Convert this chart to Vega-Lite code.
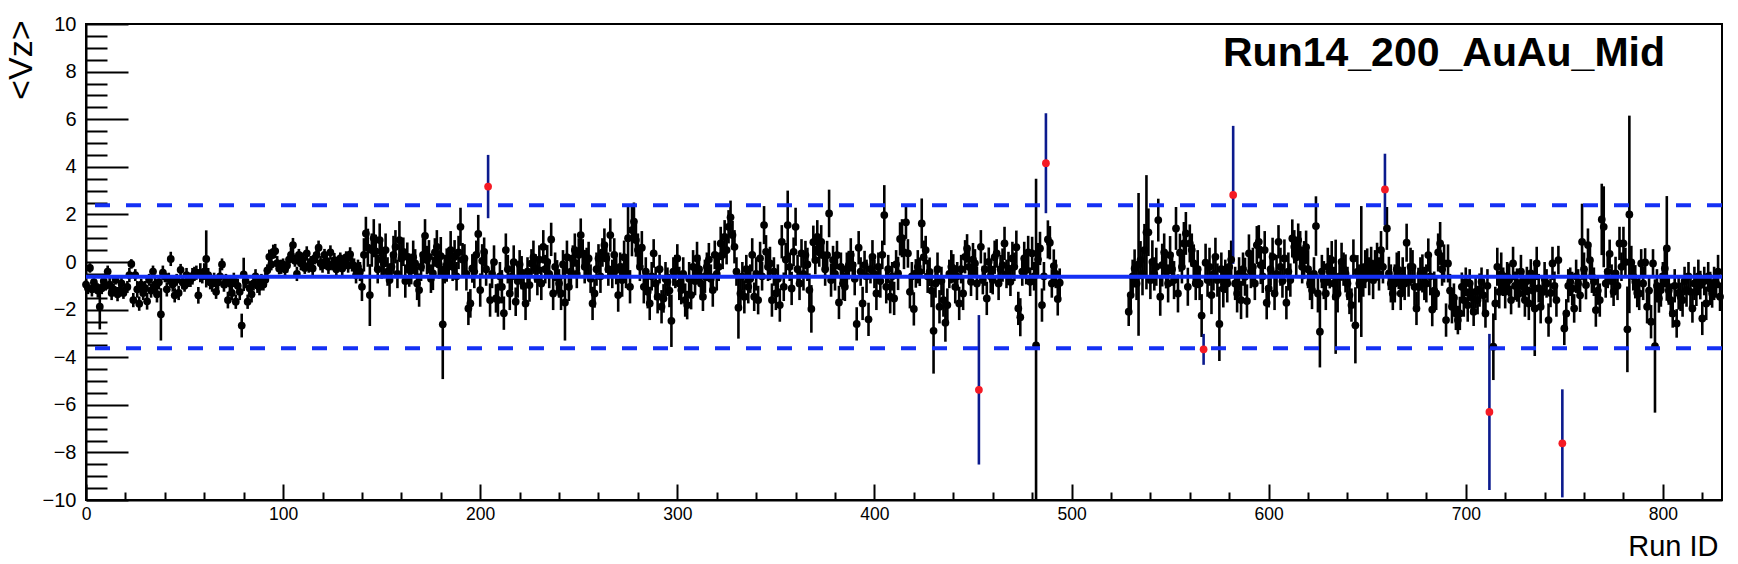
{
"$schema": "https://vega.github.io/schema/vega-lite/v6.json",
"width": 1636, "height": 476,
"autosize": {"type": "none"},
"padding": {"left": 86, "top": 24, "right": 16, "bottom": 64},
"background": "white",
"title": {"text": "Run14_200_AuAu_Mid", "anchor": "end", "frame": "group", "orient": "top", "offset": 0, "dx": -57, "dy": 93, "baseline": "alphabetic", "font": "Liberation Sans", "fontSize": 41, "fontWeight": "bold", "color": "black"},
"config": {
  "view": {"stroke": "black", "strokeWidth": 2},
  "axis": {"domainColor": "black", "domainWidth": 2, "tickColor": "black", "tickWidth": 2, "labelColor": "black", "labelFont": "Liberation Sans", "titleFont": "Liberation Sans", "titleColor": "black", "titleFontWeight": "normal", "grid": false, "labelFlush": false, "labelOverlap": false}
},
"datasets": {
"pts": [
{"r":0,"v":-0.95,"e":0.2},{"r":1,"v":-1.1,"e":0.25},{"r":2,"v":-0.25,"e":0.2},{"r":3,"v":-1.15,"e":0.3},{"r":4,"v":-0.85,"e":0.2},{"r":5,"v":-1.05,"e":0.25},{"r":6,"v":-1.2,"e":0.3},{"r":7,"v":-1.88,"e":0.95},{"r":8,"v":-1.1,"e":0.25},{"r":9,"v":-0.8,"e":0.3},
{"r":10,"v":-1.0,"e":0.2},{"r":11,"v":-0.4,"e":0.25},{"r":12,"v":-0.95,"e":0.3},{"r":13,"v":-1.3,"e":0.3},{"r":14,"v":-1.15,"e":0.25},{"r":15,"v":-0.75,"e":0.2},{"r":16,"v":-1.35,"e":0.3},{"r":17,"v":-1.2,"e":0.25},{"r":18,"v":-0.9,"e":0.3},{"r":19,"v":-1.3,"e":0.25},
{"r":21,"v":-1.05,"e":0.25},{"r":22,"v":-0.55,"e":0.3},{"r":23,"v":-0.08,"e":0.2},{"r":24,"v":-1.6,"e":0.3},{"r":25,"v":-0.55,"e":0.25},{"r":26,"v":-1.15,"e":0.35},{"r":27,"v":-1.75,"e":0.3},{"r":28,"v":-0.95,"e":0.25},{"r":29,"v":-1.3,"e":0.3},
{"r":30,"v":-1.1,"e":0.3},{"r":31,"v":-1.65,"e":0.35},{"r":32,"v":-0.75,"e":0.25},{"r":33,"v":-1.2,"e":0.3},{"r":34,"v":-0.4,"e":0.25},{"r":35,"v":-0.95,"e":0.3},{"r":36,"v":-1.35,"e":0.35},{"r":37,"v":-0.85,"e":0.3},{"r":38,"v":-2.2,"e":1.1},{"r":39,"v":-0.45,"e":0.3},
{"r":40,"v":-0.6,"e":0.25},{"r":41,"v":-1.15,"e":0.3},{"r":42,"v":-0.7,"e":0.25},{"r":43,"v":0.13,"e":0.3},{"r":44,"v":-0.95,"e":0.3},{"r":45,"v":-1.4,"e":0.3},{"r":46,"v":-0.75,"e":0.25},{"r":47,"v":-1.3,"e":0.3},{"r":48,"v":-0.33,"e":0.25},{"r":49,"v":-0.85,"e":0.3},
{"r":50,"v":-1.0,"e":0.25},{"r":51,"v":-0.55,"e":0.3},{"r":52,"v":-0.8,"e":0.25},{"r":53,"v":-0.75,"e":0.3},{"r":54,"v":-0.6,"e":0.35},{"r":55,"v":-0.5,"e":0.3},{"r":56,"v":-0.45,"e":0.3},{"r":57,"v":-1.4,"e":0.35},{"r":58,"v":-0.45,"e":0.4},{"r":59,"v":-0.6,"e":0.3},
{"r":60,"v":-0.4,"e":0.35},{"r":61,"v":0.13,"e":1.2},{"r":62,"v":-0.55,"e":0.3},{"r":63,"v":-0.85,"e":0.3},{"r":64,"v":-0.9,"e":0.35},{"r":65,"v":-0.75,"e":0.3},{"r":66,"v":-1.25,"e":0.3},{"r":67,"v":-0.85,"e":0.3},{"r":68,"v":-0.6,"e":0.35},{"r":69,"v":-0.1,"e":0.25},
{"r":70,"v":-0.95,"e":0.3},{"r":71,"v":-0.8,"e":0.3},{"r":72,"v":-1.6,"e":0.35},{"r":73,"v":-0.9,"e":0.3},{"r":74,"v":-1.3,"e":0.3},{"r":75,"v":-0.75,"e":0.3},{"r":76,"v":-1.67,"e":0.3},{"r":77,"v":-1.0,"e":0.3},{"r":78,"v":-1.25,"e":0.35},{"r":79,"v":-2.67,"e":0.5},
{"r":80,"v":-0.52,"e":0.7},{"r":81,"v":-0.8,"e":0.3},{"r":82,"v":-1.67,"e":0.3},{"r":83,"v":-1.1,"e":0.3},{"r":84,"v":-1.35,"e":0.35},{"r":85,"v":-0.9,"e":0.3},{"r":86,"v":-0.6,"e":0.3},{"r":87,"v":-1.0,"e":0.3},{"r":88,"v":-1.05,"e":0.35},{"r":89,"v":-0.8,"e":0.3},
{"r":90,"v":-0.95,"e":0.25},{"r":91,"v":-0.75,"e":0.3},{"r":92,"v":-0.35,"e":0.25},{"r":93,"v":0.22,"e":0.3},{"r":94,"v":-0.1,"e":0.25},{"r":95,"v":0.43,"e":0.3},{"r":96,"v":0.46,"e":0.3},{"r":97,"v":-0.05,"e":0.3},{"r":98,"v":-0.27,"e":0.25},{"r":99,"v":-0.2,"e":0.3},
{"r":100,"v":-0.1,"e":0.25},{"r":101,"v":-0.3,"e":0.3},{"r":102,"v":-0.15,"e":0.3},{"r":103,"v":0.1,"e":0.25},{"r":104,"v":0.3,"e":0.3},{"r":105,"v":0.71,"e":0.3},{"r":106,"v":0.05,"e":0.25},{"r":107,"v":-0.5,"e":0.3},{"r":108,"v":0.3,"e":0.25},{"r":109,"v":-0.05,"e":0.3},
{"r":110,"v":0.1,"e":0.3},{"r":111,"v":-0.25,"e":0.25},{"r":112,"v":0.36,"e":0.3},{"r":113,"v":-0.15,"e":0.3},{"r":114,"v":0.0,"e":0.25},{"r":115,"v":-0.27,"e":0.3},{"r":116,"v":0.15,"e":0.25},{"r":117,"v":0.3,"e":0.35},{"r":118,"v":0.6,"e":0.3},{"r":119,"v":-0.05,"e":0.3},
{"r":120,"v":-0.15,"e":0.3},{"r":121,"v":0.3,"e":0.25},{"r":122,"v":0.05,"e":0.3},{"r":123,"v":-0.2,"e":0.3},{"r":124,"v":0.4,"e":0.3},{"r":125,"v":-0.1,"e":0.25},{"r":126,"v":0.08,"e":0.3},{"r":127,"v":-0.3,"e":0.3},{"r":128,"v":-0.05,"e":0.3},{"r":129,"v":0.15,"e":0.25},
{"r":130,"v":-0.27,"e":0.3},{"r":131,"v":-0.03,"e":0.3},{"r":132,"v":0.2,"e":0.25},{"r":133,"v":-0.15,"e":0.3},{"r":134,"v":0.32,"e":0.3},{"r":135,"v":-0.1,"e":0.3},{"r":136,"v":-0.15,"e":0.3},{"r":137,"v":-0.55,"e":0.35},{"r":138,"v":-0.2,"e":0.3},{"r":139,"v":-0.4,"e":0.4},
{"r":140,"v":-1.04,"e":0.6},{"r":141,"v":0.3,"e":0.7},{"r":142,"v":1.2,"e":0.7},{"r":143,"v":0.6,"e":0.8},{"r":144,"v":-1.39,"e":1.3},{"r":145,"v":0.5,"e":0.7},{"r":146,"v":1.0,"e":0.8},{"r":147,"v":0.45,"e":0.7},{"r":148,"v":-0.3,"e":0.6},{"r":149,"v":0.92,"e":0.7},
{"r":150,"v":0.1,"e":0.8},{"r":151,"v":-0.06,"e":0.6},{"r":152,"v":0.5,"e":0.7},{"r":153,"v":-0.4,"e":0.6},{"r":154,"v":-0.76,"e":0.7},{"r":155,"v":-0.2,"e":0.6},{"r":156,"v":0.3,"e":0.8},{"r":157,"v":0.64,"e":0.7},{"r":158,"v":-0.5,"e":0.6},{"r":159,"v":0.92,"e":0.8},
{"r":160,"v":0.15,"e":0.7},{"r":161,"v":0.43,"e":0.6},{"r":162,"v":-0.8,"e":0.7},{"r":163,"v":0.22,"e":0.6},{"r":164,"v":-0.34,"e":0.7},{"r":165,"v":-0.34,"e":0.6},{"r":166,"v":0.2,"e":0.7},{"r":167,"v":-0.06,"e":0.6},{"r":168,"v":-0.9,"e":0.7},{"r":169,"v":-1.18,"e":0.7},
{"r":170,"v":-0.2,"e":0.6},{"r":171,"v":0.3,"e":0.7},{"r":172,"v":1.1,"e":0.7},{"r":173,"v":0.08,"e":0.6},{"r":174,"v":0.22,"e":0.7},{"r":175,"v":-0.7,"e":0.6},{"r":176,"v":-0.48,"e":0.7},{"r":177,"v":0.4,"e":0.6},{"r":178,"v":0.64,"e":0.7},{"r":179,"v":-0.1,"e":0.6},
{"r":180,"v":0.25,"e":0.8},{"r":181,"v":-2.62,"e":2.3},{"r":182,"v":-0.3,"e":0.6},{"r":183,"v":-0.13,"e":0.7},{"r":184,"v":-0.06,"e":0.6},{"r":185,"v":0.5,"e":0.8},{"r":186,"v":-0.2,"e":0.6},{"r":187,"v":0.22,"e":0.7},{"r":188,"v":-0.6,"e":0.6},{"r":189,"v":0.4,"e":0.7},
{"r":190,"v":1.48,"e":0.8},{"r":191,"v":0.1,"e":0.7},{"r":192,"v":0.15,"e":0.6},{"r":193,"v":-0.5,"e":0.7},{"r":194,"v":-1.95,"e":0.7},{"r":195,"v":-1.74,"e":0.6},{"r":196,"v":-0.27,"e":0.6},{"r":197,"v":-0.4,"e":0.7},{"r":198,"v":0.3,"e":0.6},{"r":199,"v":1.18,"e":0.8},
{"r":200,"v":-1.18,"e":0.7},{"r":201,"v":0.05,"e":0.7},{"r":202,"v":0.43,"e":0.6},{"r":203,"v":-0.3,"e":0.7},{"r":205,"v":-1.6,"e":0.7},{"r":206,"v":-0.5,"e":0.6},{"r":207,"v":0.0,"e":0.7},{"r":208,"v":-1.53,"e":0.6},{"r":209,"v":-1.6,"e":0.7},
{"r":210,"v":-0.6,"e":0.6},{"r":211,"v":-1.04,"e":0.7},{"r":212,"v":-2.15,"e":0.7},{"r":213,"v":0.5,"e":0.7},{"r":214,"v":-0.3,"e":0.6},{"r":215,"v":-1.32,"e":0.7},{"r":216,"v":-0.6,"e":0.6},{"r":217,"v":0.0,"e":0.7},{"r":218,"v":-1.67,"e":0.6},{"r":219,"v":-0.8,"e":0.7},
{"r":220,"v":-0.1,"e":0.6},{"r":221,"v":-0.45,"e":0.7},{"r":222,"v":-1.0,"e":0.6},{"r":223,"v":-1.74,"e":0.7},{"r":224,"v":-0.4,"e":0.6},{"r":225,"v":-0.97,"e":0.7},{"r":226,"v":-0.06,"e":0.6},{"r":227,"v":0.2,"e":0.7},{"r":228,"v":-0.27,"e":0.6},{"r":229,"v":-0.7,"e":0.7},
{"r":230,"v":0.1,"e":0.6},{"r":231,"v":-0.9,"e":0.7},{"r":232,"v":0.64,"e":0.7},{"r":233,"v":-0.3,"e":0.6},{"r":234,"v":0.01,"e":0.7},{"r":235,"v":-0.5,"e":0.6},{"r":236,"v":0.95,"e":0.7},{"r":237,"v":-1.32,"e":0.7},{"r":238,"v":-0.2,"e":0.6},{"r":239,"v":-0.62,"e":0.7},
{"r":240,"v":-0.9,"e":0.6},{"r":241,"v":-1.32,"e":0.7},{"r":242,"v":-0.1,"e":0.6},{"r":243,"v":-1.7,"e":1.6},{"r":244,"v":0.2,"e":0.7},{"r":245,"v":-1.04,"e":0.6},{"r":246,"v":-0.4,"e":0.7},{"r":247,"v":0.1,"e":0.6},{"r":248,"v":0.5,"e":0.7},{"r":249,"v":-0.5,"e":0.6},
{"r":250,"v":0.3,"e":0.7},{"r":251,"v":1.13,"e":0.7},{"r":252,"v":0.36,"e":0.6},{"r":253,"v":-0.2,"e":0.7},{"r":254,"v":0.0,"e":0.6},{"r":255,"v":0.15,"e":0.7},{"r":256,"v":-0.7,"e":0.6},{"r":257,"v":-1.74,"e":0.7},{"r":258,"v":-1.32,"e":0.6},{"r":259,"v":-0.3,"e":0.7},
{"r":260,"v":0.15,"e":0.6},{"r":261,"v":-0.6,"e":0.7},{"r":262,"v":0.4,"e":0.6},{"r":263,"v":0.71,"e":0.7},{"r":264,"v":0.15,"e":0.6},{"r":265,"v":-0.3,"e":0.7},{"r":266,"v":1.13,"e":0.7},{"r":267,"v":-0.5,"e":0.6},{"r":268,"v":0.3,"e":0.7},{"r":269,"v":-0.34,"e":0.6},
{"r":270,"v":-1.39,"e":0.7},{"r":271,"v":-0.2,"e":0.6},{"r":272,"v":-0.76,"e":0.7},{"r":273,"v":0.2,"e":0.7},{"r":274,"v":-0.5,"e":0.6},{"r":275,"v":1.0,"e":1.4},{"r":276,"v":-1.04,"e":0.7},{"r":277,"v":1.34,"e":1.1},{"r":278,"v":1.7,"e":0.8},{"r":279,"v":0.92,"e":0.7},
{"r":280,"v":0.5,"e":0.7},{"r":281,"v":-0.2,"e":0.6},{"r":282,"v":0.6,"e":0.7},{"r":283,"v":-1.04,"e":0.7},{"r":284,"v":-0.4,"e":0.6},{"r":285,"v":-1.25,"e":0.7},{"r":286,"v":-1.74,"e":0.7},{"r":287,"v":-0.6,"e":0.6},{"r":288,"v":0.36,"e":0.6},{"r":289,"v":-0.9,"e":0.7},
{"r":290,"v":-1.46,"e":0.7},{"r":291,"v":-0.3,"e":0.6},{"r":292,"v":-1.88,"e":0.7},{"r":293,"v":-1.53,"e":0.6},{"r":294,"v":-0.7,"e":0.7},{"r":295,"v":-0.83,"e":0.6},{"r":296,"v":-1.2,"e":0.7},{"r":297,"v":-2.47,"e":1.1},{"r":298,"v":-0.4,"e":0.6},{"r":299,"v":-0.4,"e":0.7},
{"r":300,"v":0.15,"e":0.6},{"r":301,"v":-0.9,"e":0.7},{"r":302,"v":-1.18,"e":0.6},{"r":303,"v":-0.5,"e":0.7},{"r":304,"v":-1.6,"e":0.7},{"r":305,"v":-1.81,"e":0.6},{"r":306,"v":-0.7,"e":0.7},{"r":307,"v":-1.39,"e":0.6},{"r":308,"v":-0.2,"e":0.7},{"r":309,"v":-0.8,"e":0.6},
{"r":310,"v":0.15,"e":0.7},{"r":311,"v":-0.3,"e":0.6},{"r":312,"v":-0.9,"e":0.7},{"r":313,"v":-1.46,"e":0.6},{"r":314,"v":-0.6,"e":0.7},{"r":315,"v":-0.2,"e":0.6},{"r":316,"v":0.1,"e":0.7},{"r":317,"v":-0.7,"e":0.6},{"r":318,"v":-1.18,"e":0.7},{"r":319,"v":0.3,"e":0.6},
{"r":320,"v":-0.5,"e":0.7},{"r":321,"v":-0.2,"e":0.6},{"r":322,"v":0.78,"e":0.7},{"r":323,"v":0.3,"e":0.6},{"r":324,"v":1.06,"e":0.7},{"r":325,"v":0.5,"e":0.6},{"r":326,"v":1.48,"e":0.7},{"r":327,"v":1.88,"e":0.7},{"r":328,"v":1.13,"e":0.6},{"r":329,"v":0.64,"e":0.7},
{"r":330,"v":-0.4,"e":0.6},{"r":331,"v":-1.92,"e":1.3},{"r":332,"v":-1.32,"e":0.7},{"r":333,"v":-0.6,"e":0.6},{"r":334,"v":-1.46,"e":0.7},{"r":335,"v":-0.3,"e":0.6},{"r":336,"v":-1.04,"e":0.7},{"r":337,"v":-0.7,"e":0.6},{"r":338,"v":0.3,"e":0.7},{"r":339,"v":-1.46,"e":0.6},
{"r":340,"v":-0.5,"e":0.7},{"r":341,"v":-1.6,"e":0.6},{"r":342,"v":0.15,"e":0.7},{"r":343,"v":-0.6,"e":0.6},{"r":344,"v":1.55,"e":0.8},{"r":345,"v":0.43,"e":0.7},{"r":346,"v":-0.2,"e":0.6},{"r":347,"v":-0.06,"e":0.7},{"r":348,"v":-1.6,"e":0.7},{"r":349,"v":-0.4,"e":0.6},
{"r":350,"v":-1.32,"e":0.7},{"r":351,"v":-0.7,"e":0.6},{"r":352,"v":-1.81,"e":0.7},{"r":353,"v":0.85,"e":0.7},{"r":354,"v":-1.04,"e":0.6},{"r":355,"v":0.1,"e":0.7},{"r":356,"v":1.55,"e":1.45},{"r":357,"v":-0.2,"e":0.6},{"r":358,"v":-1.11,"e":0.7},{"r":359,"v":0.43,"e":0.6},
{"r":360,"v":1.48,"e":0.8},{"r":361,"v":-0.3,"e":0.6},{"r":362,"v":-0.9,"e":0.7},{"r":363,"v":0.36,"e":0.6},{"r":364,"v":-0.5,"e":0.7},{"r":365,"v":0.29,"e":0.6},{"r":366,"v":-0.1,"e":0.7},{"r":367,"v":-1.18,"e":0.7},{"r":368,"v":-1.97,"e":1.0},{"r":369,"v":0.83,"e":0.7},
{"r":370,"v":0.08,"e":0.6},{"r":371,"v":1.06,"e":0.7},{"r":372,"v":0.4,"e":0.6},{"r":373,"v":0.85,"e":0.7},{"r":374,"v":0.29,"e":0.6},{"r":375,"v":-0.3,"e":0.7},{"r":376,"v":0.29,"e":0.6},{"r":377,"v":2.04,"e":1.0},{"r":378,"v":-0.76,"e":0.7},{"r":379,"v":0.08,"e":0.6},
{"r":380,"v":-0.5,"e":0.7},{"r":381,"v":0.29,"e":0.6},{"r":382,"v":-1.7,"e":0.7},{"r":383,"v":-0.2,"e":0.6},{"r":384,"v":-0.9,"e":0.7},{"r":385,"v":-1.04,"e":0.6},{"r":386,"v":-0.3,"e":0.7},{"r":387,"v":-0.13,"e":0.6},{"r":388,"v":0.3,"e":0.7},{"r":389,"v":-0.13,"e":0.6},
{"r":390,"v":-0.7,"e":0.7},{"r":391,"v":-2.6,"e":0.7},{"r":392,"v":0.6,"e":0.7},{"r":393,"v":-0.4,"e":0.6},{"r":394,"v":-1.74,"e":0.7},{"r":395,"v":-0.13,"e":0.6},{"r":396,"v":-0.6,"e":0.7},{"r":397,"v":-2.41,"e":0.7},{"r":398,"v":-0.3,"e":0.6},{"r":399,"v":0.22,"e":0.7},
{"r":400,"v":-0.5,"e":0.6},{"r":401,"v":-1.32,"e":0.7},{"r":402,"v":-0.2,"e":0.6},{"r":403,"v":-0.8,"e":0.7},{"r":404,"v":0.3,"e":0.6},{"r":405,"v":1.97,"e":1.26},{"r":406,"v":-1.04,"e":0.7},{"r":407,"v":-0.3,"e":0.6},{"r":408,"v":-1.46,"e":0.7},{"r":409,"v":-0.6,"e":0.6},
{"r":410,"v":-1.53,"e":0.7},{"r":411,"v":-0.1,"e":0.6},{"r":412,"v":-0.48,"e":0.7},{"r":413,"v":0.97,"e":0.7},{"r":414,"v":1.0,"e":0.8},{"r":415,"v":0.4,"e":0.7},{"r":416,"v":1.67,"e":0.7},{"r":417,"v":0.36,"e":0.6},{"r":418,"v":-1.25,"e":0.7},{"r":419,"v":-0.6,"e":0.6},
{"r":420,"v":-1.97,"e":0.7},{"r":421,"v":-0.48,"e":0.6},{"r":422,"v":-0.2,"e":0.7},{"r":423,"v":-0.41,"e":0.6},{"r":424,"v":1.62,"e":1.05},{"r":425,"v":0.2,"e":0.7},{"r":426,"v":0.5,"e":0.6},{"r":427,"v":-0.6,"e":0.7},{"r":428,"v":-0.41,"e":0.6},{"r":429,"v":-1.2,"e":0.7},
{"r":430,"v":-2.89,"e":1.8},{"r":431,"v":-0.9,"e":0.6},{"r":432,"v":-0.3,"e":0.7},{"r":433,"v":-1.88,"e":0.7},{"r":434,"v":-0.8,"e":0.6},{"r":435,"v":-1.6,"e":0.7},{"r":436,"v":-2.55,"e":0.8},{"r":437,"v":-1.81,"e":0.7},{"r":438,"v":-0.5,"e":0.6},{"r":439,"v":-0.2,"e":0.7},
{"r":440,"v":-0.27,"e":0.6},{"r":441,"v":-1.04,"e":0.7},{"r":442,"v":-0.6,"e":0.6},{"r":443,"v":-1.74,"e":0.7},{"r":444,"v":-0.3,"e":0.6},{"r":445,"v":-1.32,"e":0.7},{"r":446,"v":0.22,"e":0.7},{"r":447,"v":0.57,"e":0.6},{"r":448,"v":-0.2,"e":0.7},{"r":449,"v":-0.83,"e":0.6},
{"r":450,"v":0.1,"e":0.7},{"r":451,"v":-0.06,"e":0.6},{"r":452,"v":-0.9,"e":0.7},{"r":454,"v":0.64,"e":0.7},{"r":455,"v":-0.76,"e":0.6},{"r":456,"v":-0.3,"e":0.7},{"r":457,"v":-1.53,"e":0.7},{"r":458,"v":0.01,"e":0.6},{"r":459,"v":-0.6,"e":0.7},
{"r":460,"v":-0.76,"e":0.6},{"r":461,"v":0.2,"e":0.7},{"r":462,"v":0.36,"e":0.6},{"r":463,"v":-0.9,"e":0.7},{"r":464,"v":-0.3,"e":0.6},{"r":465,"v":-0.13,"e":0.7},{"r":466,"v":0.78,"e":0.7},{"r":467,"v":-0.5,"e":0.6},{"r":468,"v":-0.27,"e":0.7},{"r":469,"v":-0.83,"e":0.6},
{"r":470,"v":0.15,"e":0.7},{"r":471,"v":-0.2,"e":0.6},{"r":472,"v":0.62,"e":0.7},{"r":473,"v":-1.95,"e":0.7},{"r":474,"v":-2.32,"e":0.8},{"r":475,"v":-0.4,"e":0.6},{"r":476,"v":0.15,"e":0.7},{"r":477,"v":-0.34,"e":0.6},{"r":478,"v":0.4,"e":0.7},{"r":479,"v":-0.83,"e":0.6},
{"r":480,"v":0.36,"e":0.7},{"r":481,"v":-0.6,"e":0.6},{"r":482,"v":-3.5,"e":7.0},{"r":483,"v":0.1,"e":0.7},{"r":484,"v":0.57,"e":0.7},{"r":485,"v":-1.81,"e":0.7},{"r":486,"v":-0.6,"e":0.6},{"r":488,"v":0.95,"e":0.8},{"r":489,"v":0.81,"e":0.7},
{"r":490,"v":-0.9,"e":0.6},{"r":491,"v":-0.17,"e":0.7},{"r":492,"v":-0.5,"e":0.6},{"r":493,"v":-1.55,"e":0.7},{"r":494,"v":-0.87,"e":0.6},
{"r":529,"v":-2.09,"e":0.6},{"r":530,"v":-1.39,"e":0.8},{"r":531,"v":-0.6,"e":0.7},{"r":532,"v":-0.27,"e":0.8},{"r":533,"v":-0.9,"e":0.7},{"r":534,"v":-0.1,"e":3.0},{"r":535,"v":0.08,"e":0.8},{"r":536,"v":-0.5,"e":0.9},{"r":537,"v":0.5,"e":1.1},{"r":538,"v":1.25,"e":2.4},{"r":539,"v":1.25,"e":1.0},
{"r":540,"v":-0.76,"e":0.8},{"r":541,"v":0.01,"e":0.9},{"r":542,"v":-0.5,"e":0.7},{"r":543,"v":-0.2,"e":0.8},{"r":544,"v":1.76,"e":0.9},{"r":545,"v":-1.46,"e":0.8},{"r":546,"v":-0.13,"e":0.9},{"r":547,"v":0.4,"e":0.8},{"r":548,"v":-0.41,"e":0.7},{"r":549,"v":-0.9,"e":0.8},
{"r":550,"v":0.29,"e":0.8},{"r":551,"v":-0.3,"e":0.7},{"r":552,"v":-0.76,"e":0.8},{"r":553,"v":1.41,"e":0.9},{"r":554,"v":-1.32,"e":0.8},{"r":555,"v":0.39,"e":0.8},{"r":556,"v":-0.2,"e":0.7},{"r":557,"v":0.78,"e":0.9},{"r":558,"v":1.2,"e":0.9},{"r":559,"v":-1.04,"e":0.8},
{"r":560,"v":0.78,"e":0.8},{"r":561,"v":0.5,"e":0.7},{"r":562,"v":-0.06,"e":0.8},{"r":563,"v":-0.9,"e":0.7},{"r":564,"v":-0.3,"e":0.8},{"r":565,"v":-0.9,"e":0.7},{"r":566,"v":-2.25,"e":0.9},{"r":568,"v":-0.03,"e":0.8},{"r":569,"v":-0.76,"e":0.7},
{"r":570,"v":-0.2,"e":0.8},{"r":571,"v":-1.39,"e":0.8},{"r":572,"v":-0.5,"e":0.7},{"r":573,"v":0.22,"e":0.8},{"r":574,"v":-0.76,"e":0.7},{"r":575,"v":-2.6,"e":1.56},{"r":576,"v":-0.3,"e":0.7},{"r":577,"v":-1.11,"e":0.8},{"r":578,"v":-0.6,"e":0.7},{"r":579,"v":-0.9,"e":0.8},
{"r":580,"v":-0.2,"e":0.7},{"r":581,"v":0.1,"e":0.8},{"r":583,"v":-0.9,"e":0.7},{"r":584,"v":-1.32,"e":0.8},{"r":585,"v":-0.5,"e":0.7},{"r":586,"v":-1.6,"e":0.8},{"r":587,"v":-0.3,"e":0.7},{"r":588,"v":-0.62,"e":0.8},{"r":589,"v":-1.64,"e":0.7},
{"r":590,"v":0.36,"e":0.8},{"r":591,"v":-0.4,"e":0.7},{"r":592,"v":-0.2,"e":0.8},{"r":593,"v":-0.9,"e":0.7},{"r":594,"v":0.71,"e":0.8},{"r":595,"v":0.85,"e":0.7},{"r":596,"v":-0.13,"e":0.8},{"r":597,"v":-0.6,"e":0.7},{"r":598,"v":0.5,"e":0.8},{"r":599,"v":-1.71,"e":0.7},
{"r":600,"v":-1.11,"e":0.8},{"r":601,"v":-0.3,"e":0.7},{"r":602,"v":0.22,"e":0.8},{"r":603,"v":-1.32,"e":0.7},{"r":604,"v":-0.5,"e":0.8},{"r":605,"v":0.85,"e":0.7},{"r":606,"v":-0.2,"e":0.8},{"r":607,"v":-0.8,"e":0.7},{"r":608,"v":0.15,"e":0.8},{"r":609,"v":-1.71,"e":0.7},
{"r":610,"v":-0.4,"e":0.8},{"r":611,"v":-0.76,"e":0.7},{"r":612,"v":0.99,"e":0.8},{"r":613,"v":0.64,"e":0.7},{"r":614,"v":0.2,"e":0.8},{"r":615,"v":0.92,"e":0.7},{"r":616,"v":0.5,"e":0.8},{"r":617,"v":-0.2,"e":0.7},{"r":618,"v":0.08,"e":0.8},{"r":619,"v":0.62,"e":0.7},
{"r":620,"v":-0.3,"e":0.8},{"r":621,"v":-0.9,"e":0.7},{"r":622,"v":-1.18,"e":0.8},{"r":623,"v":-0.5,"e":0.7},{"r":624,"v":1.51,"e":1.25},{"r":625,"v":-1.32,"e":0.8},{"r":626,"v":-2.93,"e":1.5},{"r":627,"v":-0.4,"e":0.7},{"r":628,"v":-0.76,"e":0.8},{"r":629,"v":-1.32,"e":0.7},
{"r":630,"v":-0.2,"e":0.8},{"r":631,"v":-0.41,"e":0.7},{"r":632,"v":0.08,"e":0.8},{"r":633,"v":-0.9,"e":0.7},{"r":634,"v":-1.46,"e":2.4},{"r":635,"v":-1.32,"e":0.8},{"r":636,"v":-0.6,"e":0.7},{"r":637,"v":0.01,"e":0.8},{"r":638,"v":-0.3,"e":0.7},{"r":639,"v":-0.48,"e":0.8},
{"r":640,"v":-0.9,"e":0.7},{"r":641,"v":-1.39,"e":0.8},{"r":642,"v":-1.81,"e":0.7},{"r":643,"v":0.15,"e":0.8},{"r":644,"v":-2.66,"e":1.6},{"r":645,"v":-0.41,"e":0.7},{"r":646,"v":-0.9,"e":0.8},{"r":647,"v":-0.4,"e":2.75},{"r":648,"v":-0.76,"e":0.7},{"r":649,"v":-0.3,"e":0.8},
{"r":650,"v":-0.13,"e":0.7},{"r":651,"v":-0.6,"e":0.8},{"r":652,"v":-0.06,"e":0.7},{"r":653,"v":-0.76,"e":0.8},{"r":654,"v":-0.2,"e":0.7},{"r":655,"v":0.01,"e":0.8},{"r":656,"v":-0.5,"e":0.7},{"r":657,"v":0.5,"e":0.8},{"r":658,"v":-0.2,"e":0.7},
{"r":660,"v":1.41,"e":0.9},{"r":661,"v":-0.48,"e":0.7},{"r":662,"v":-0.9,"e":0.8},{"r":663,"v":-1.32,"e":0.7},{"r":664,"v":-0.9,"e":0.8},{"r":665,"v":-0.3,"e":0.7},{"r":666,"v":-0.34,"e":0.8},{"r":667,"v":-1.32,"e":0.7},{"r":668,"v":-0.6,"e":0.8},{"r":669,"v":-0.9,"e":0.7},
{"r":670,"v":0.81,"e":0.8},{"r":671,"v":-0.76,"e":0.7},{"r":672,"v":-0.2,"e":0.8},{"r":673,"v":-0.2,"e":0.7},{"r":674,"v":-1.04,"e":0.8},{"r":675,"v":-1.95,"e":0.7},{"r":676,"v":-1.04,"e":0.8},{"r":677,"v":-0.5,"e":0.7},{"r":678,"v":-0.48,"e":0.8},{"r":679,"v":-0.9,"e":0.7},
{"r":680,"v":-0.9,"e":0.8},{"r":681,"v":0.29,"e":0.7},{"r":682,"v":-0.6,"e":0.8},{"r":683,"v":-2.0,"e":0.7},{"r":684,"v":-1.2,"e":0.8},{"r":685,"v":-1.32,"e":0.7},{"r":686,"v":0.4,"e":0.8},{"r":687,"v":0.78,"e":0.9},{"r":688,"v":-0.3,"e":0.7},{"r":689,"v":-0.06,"e":0.8},
{"r":690,"v":-2.44,"e":0.7},{"r":691,"v":-0.06,"e":0.8},{"r":692,"v":-1.2,"e":0.7},{"r":693,"v":-1.88,"e":0.7},{"r":694,"v":-1.5,"e":0.6},{"r":695,"v":-2.16,"e":0.7},{"r":696,"v":-2.44,"e":0.6},{"r":697,"v":-2.16,"e":0.7},{"r":698,"v":-1.04,"e":0.6},{"r":699,"v":-1.6,"e":0.7},
{"r":700,"v":-0.83,"e":0.6},{"r":701,"v":-1.81,"e":0.7},{"r":702,"v":-0.9,"e":0.6},{"r":703,"v":-1.5,"e":0.7},{"r":704,"v":-2.09,"e":0.6},{"r":705,"v":-1.25,"e":0.7},{"r":706,"v":-1.6,"e":0.6},{"r":707,"v":-1.18,"e":0.7},{"r":708,"v":-0.83,"e":0.6},{"r":709,"v":-1.4,"e":0.7},
{"r":710,"v":-2.16,"e":0.6},{"r":711,"v":-1.0,"e":0.7},{"r":714,"v":-3.56,"e":1.4},{"r":715,"v":-1.74,"e":0.7},{"r":716,"v":-0.2,"e":0.8},{"r":717,"v":-1.25,"e":0.7},{"r":718,"v":-0.5,"e":0.9},{"r":719,"v":-0.83,"e":0.6},
{"r":720,"v":-1.25,"e":0.7},{"r":721,"v":-0.6,"e":0.6},{"r":722,"v":-0.76,"e":0.7},{"r":723,"v":-1.6,"e":0.6},{"r":724,"v":-0.06,"e":0.7},{"r":725,"v":-1.0,"e":0.6},{"r":726,"v":-0.97,"e":0.7},{"r":727,"v":-1.32,"e":0.6},{"r":728,"v":-0.4,"e":0.7},{"r":729,"v":-1.04,"e":0.6},
{"r":730,"v":-1.6,"e":0.7},{"r":731,"v":-0.8,"e":0.6},{"r":732,"v":-1.74,"e":0.7},{"r":733,"v":-0.48,"e":0.6},{"r":734,"v":-1.2,"e":0.7},{"r":735,"v":-1.95,"e":2.0},{"r":736,"v":-0.06,"e":0.7},{"r":737,"v":-1.1,"e":0.6},{"r":738,"v":-1.88,"e":0.7},{"r":739,"v":-1.25,"e":0.6},
{"r":740,"v":-0.7,"e":0.7},{"r":741,"v":-0.9,"e":0.6},{"r":742,"v":-2.44,"e":0.7},{"r":743,"v":-1.3,"e":0.6},{"r":744,"v":-0.06,"e":0.7},{"r":745,"v":-1.0,"e":0.6},{"r":746,"v":-1.6,"e":0.7},{"r":747,"v":0.08,"e":0.6},
{"r":750,"v":-2.79,"e":0.7},{"r":751,"v":-2.16,"e":0.6},{"r":752,"v":-1.0,"e":0.7},{"r":753,"v":-0.83,"e":0.6},{"r":754,"v":-1.11,"e":0.7},{"r":755,"v":-1.95,"e":0.6},{"r":756,"v":-0.6,"e":0.7},{"r":757,"v":-0.9,"e":0.6},{"r":758,"v":-1.4,"e":0.7},{"r":759,"v":0.85,"e":1.6},
{"r":760,"v":-0.3,"e":0.7},{"r":761,"v":-0.97,"e":0.6},{"r":762,"v":0.71,"e":0.7},{"r":763,"v":0.08,"e":0.6},{"r":764,"v":-0.6,"e":0.7},{"r":765,"v":-0.83,"e":0.6},{"r":766,"v":-2.02,"e":0.7},{"r":767,"v":-1.2,"e":0.6},{"r":768,"v":-1.6,"e":0.7},{"r":769,"v":1.79,"e":1.5},
{"r":770,"v":1.48,"e":1.7},{"r":771,"v":-0.9,"e":0.6},{"r":772,"v":-0.4,"e":0.7},{"r":773,"v":0.34,"e":0.6},{"r":774,"v":-0.8,"e":0.7},{"r":775,"v":-1.25,"e":0.6},{"r":776,"v":-0.48,"e":0.7},{"r":777,"v":-1.0,"e":0.6},{"r":778,"v":0.78,"e":0.7},{"r":779,"v":-0.2,"e":0.6},
{"r":780,"v":0.78,"e":0.7},{"r":781,"v":0.0,"e":0.6},{"r":782,"v":-2.83,"e":1.8},{"r":783,"v":2.0,"e":4.15},{"r":784,"v":-0.02,"e":0.7},{"r":785,"v":-0.6,"e":0.6},{"r":786,"v":-0.83,"e":0.7},{"r":787,"v":-1.3,"e":0.6},{"r":788,"v":-1.32,"e":0.7},{"r":789,"v":-0.06,"e":0.6},
{"r":790,"v":-0.9,"e":0.7},{"r":791,"v":-0.02,"e":0.6},{"r":792,"v":-1.88,"e":0.7},{"r":793,"v":-1.2,"e":0.6},{"r":794,"v":-2.51,"e":0.7},{"r":795,"v":-0.06,"e":0.6},{"r":796,"v":-3.53,"e":2.8},{"r":797,"v":-1.0,"e":0.7},{"r":798,"v":-1.53,"e":0.6},{"r":799,"v":-1.18,"e":0.7},
{"r":800,"v":-0.6,"e":0.6},{"r":801,"v":-0.27,"e":0.8},{"r":802,"v":0.57,"e":2.2},{"r":803,"v":-1.2,"e":0.6},{"r":804,"v":-1.6,"e":0.7},{"r":805,"v":-2.16,"e":0.6},{"r":806,"v":-1.0,"e":0.7},{"r":807,"v":-2.58,"e":0.6},{"r":808,"v":-1.3,"e":0.7},{"r":809,"v":-1.46,"e":0.6},
{"r":810,"v":-1.6,"e":0.7},{"r":811,"v":-0.8,"e":0.6},{"r":812,"v":-1.18,"e":0.7},{"r":813,"v":-0.6,"e":0.6},{"r":814,"v":-1.25,"e":0.7},{"r":815,"v":-1.95,"e":0.6},{"r":816,"v":-0.9,"e":0.7},{"r":817,"v":-1.25,"e":0.6},{"r":818,"v":-0.6,"e":0.7},{"r":819,"v":-0.97,"e":0.6},
{"r":820,"v":-2.37,"e":0.7},{"r":821,"v":-0.8,"e":0.6},{"r":822,"v":-1.74,"e":0.7},{"r":823,"v":-0.6,"e":0.6},{"r":824,"v":-1.11,"e":0.7},{"r":825,"v":-1.32,"e":0.6},{"r":826,"v":-0.9,"e":0.7},{"r":827,"v":-0.9,"e":0.6},{"r":828,"v":-0.4,"e":0.7},{"r":829,"v":-1.46,"e":0.6}
],
"out": [
{"r":204,"v":3.17,"e":1.33},{"r":453,"v":-5.37,"e":3.14},{"r":487,"v":4.15,"e":2.1},{"r":567,"v":-3.67,"e":0.65},{"r":582,"v":2.82,"e":2.9},{"r":659,"v":3.05,"e":1.5},{"r":712,"v":-6.3,"e":3.28},{"r":749,"v":-7.62,"e":2.27}
]
},
"resolve": {"axis": {"x": "independent", "y": "independent"}},
"layer": [
{
  "data": {"name": "pts"},
  "mark": {"type": "errorbar", "color": "black", "thickness": 2.6, "rule": {"strokeWidth": 2.6}},
  "encoding": {
    "x": {"field": "r", "type": "quantitative", "scale": {"domain": [0, 830], "nice": false, "zero": false}, "axis": null},
    "y": {"field": "v", "type": "quantitative", "scale": {"domain": [-10, 10], "nice": false, "zero": false, "clamp": true}, "axis": null},
    "yError": {"field": "e"}
  }
},
{
  "data": {"name": "out"},
  "mark": {"type": "errorbar", "color": "#0b1a8e", "thickness": 2.6, "rule": {"strokeWidth": 2.6}},
  "encoding": {
    "x": {"field": "r", "type": "quantitative", "scale": {"domain": [0, 830], "nice": false, "zero": false}, "axis": null},
    "y": {"field": "v", "type": "quantitative", "scale": {"domain": [-10, 10], "nice": false, "zero": false, "clamp": true}, "axis": null},
    "yError": {"field": "e"}
  }
},
{
  "data": {"name": "pts"},
  "mark": {"type": "circle", "color": "black", "size": 60, "opacity": 1},
  "encoding": {
    "x": {"field": "r", "type": "quantitative", "scale": {"domain": [0, 830], "nice": false, "zero": false},
      "axis": {"orient": "bottom", "values": [0,100,200,300,400,500,600,700,800], "tickSize": -16, "labelPadding": 21, "labelFontSize": 17.5, "title": "Run ID", "titleFontSize": 29, "titleAlign": "right", "titleAnchor": "end", "titleBaseline": "alphabetic", "titleX": 1632, "titleY": 55}},
    "y": {"field": "v", "type": "quantitative", "scale": {"domain": [-10, 10], "nice": false, "zero": false, "clamp": true},
      "axis": {"orient": "left", "values": [-10,-8,-6,-4,-2,0,2,4,6,8,10], "tickSize": -42, "labelPadding": 52, "labelFontSize": 20, "title": "<Vz>", "titleFontSize": 34, "titleAngle": 270, "titleAlign": "right", "titleBaseline": "alphabetic", "titleX": -55, "titleY": -4}}
  }
},
{
  "data": {"name": "out"},
  "mark": {"type": "circle", "color": "#f51a24", "size": 60, "opacity": 1},
  "encoding": {
    "x": {"field": "r", "type": "quantitative", "scale": {"domain": [0, 830], "nice": false, "zero": false},
      "axis": {"orient": "bottom", "values": [20,40,60,80,120,140,160,180,220,240,260,280,320,340,360,380,420,440,460,480,520,540,560,580,620,640,660,680,720,740,760,780,820], "tickSize": -8, "labels": false, "domain": false, "title": null}},
    "y": {"field": "v", "type": "quantitative", "scale": {"domain": [-10, 10], "nice": false, "zero": false, "clamp": true},
      "axis": {"orient": "left", "values": [-9.5,-9,-8.5,-7.5,-7,-6.5,-5.5,-5,-4.5,-3.5,-3,-2.5,-1.5,-1,-0.5,0.5,1,1.5,2.5,3,3.5,4.5,5,5.5,6.5,7,7.5,8.5,9,9.5], "tickSize": -21, "labels": false, "domain": false, "title": null}}
  }
},
{
  "data": {"values": [{}]},
  "mark": {"type": "rule", "color": "#1430f5", "strokeWidth": 4},
  "encoding": {"y": {"datum": -0.62, "type": "quantitative", "scale": {"domain": [-10, 10], "nice": false, "zero": false, "clamp": true}, "axis": null}}
},
{
  "data": {"values": [{}]},
  "mark": {"type": "rule", "color": "#1430f5", "strokeWidth": 4, "strokeDash": [15, 16]},
  "encoding": {"y": {"datum": 2.38, "type": "quantitative", "scale": {"domain": [-10, 10], "nice": false, "zero": false, "clamp": true}, "axis": null}}
},
{
  "data": {"values": [{}]},
  "mark": {"type": "rule", "color": "#1430f5", "strokeWidth": 4, "strokeDash": [15, 16]},
  "encoding": {"y": {"datum": -3.62, "type": "quantitative", "scale": {"domain": [-10, 10], "nice": false, "zero": false, "clamp": true}, "axis": null}}
}
]
}
